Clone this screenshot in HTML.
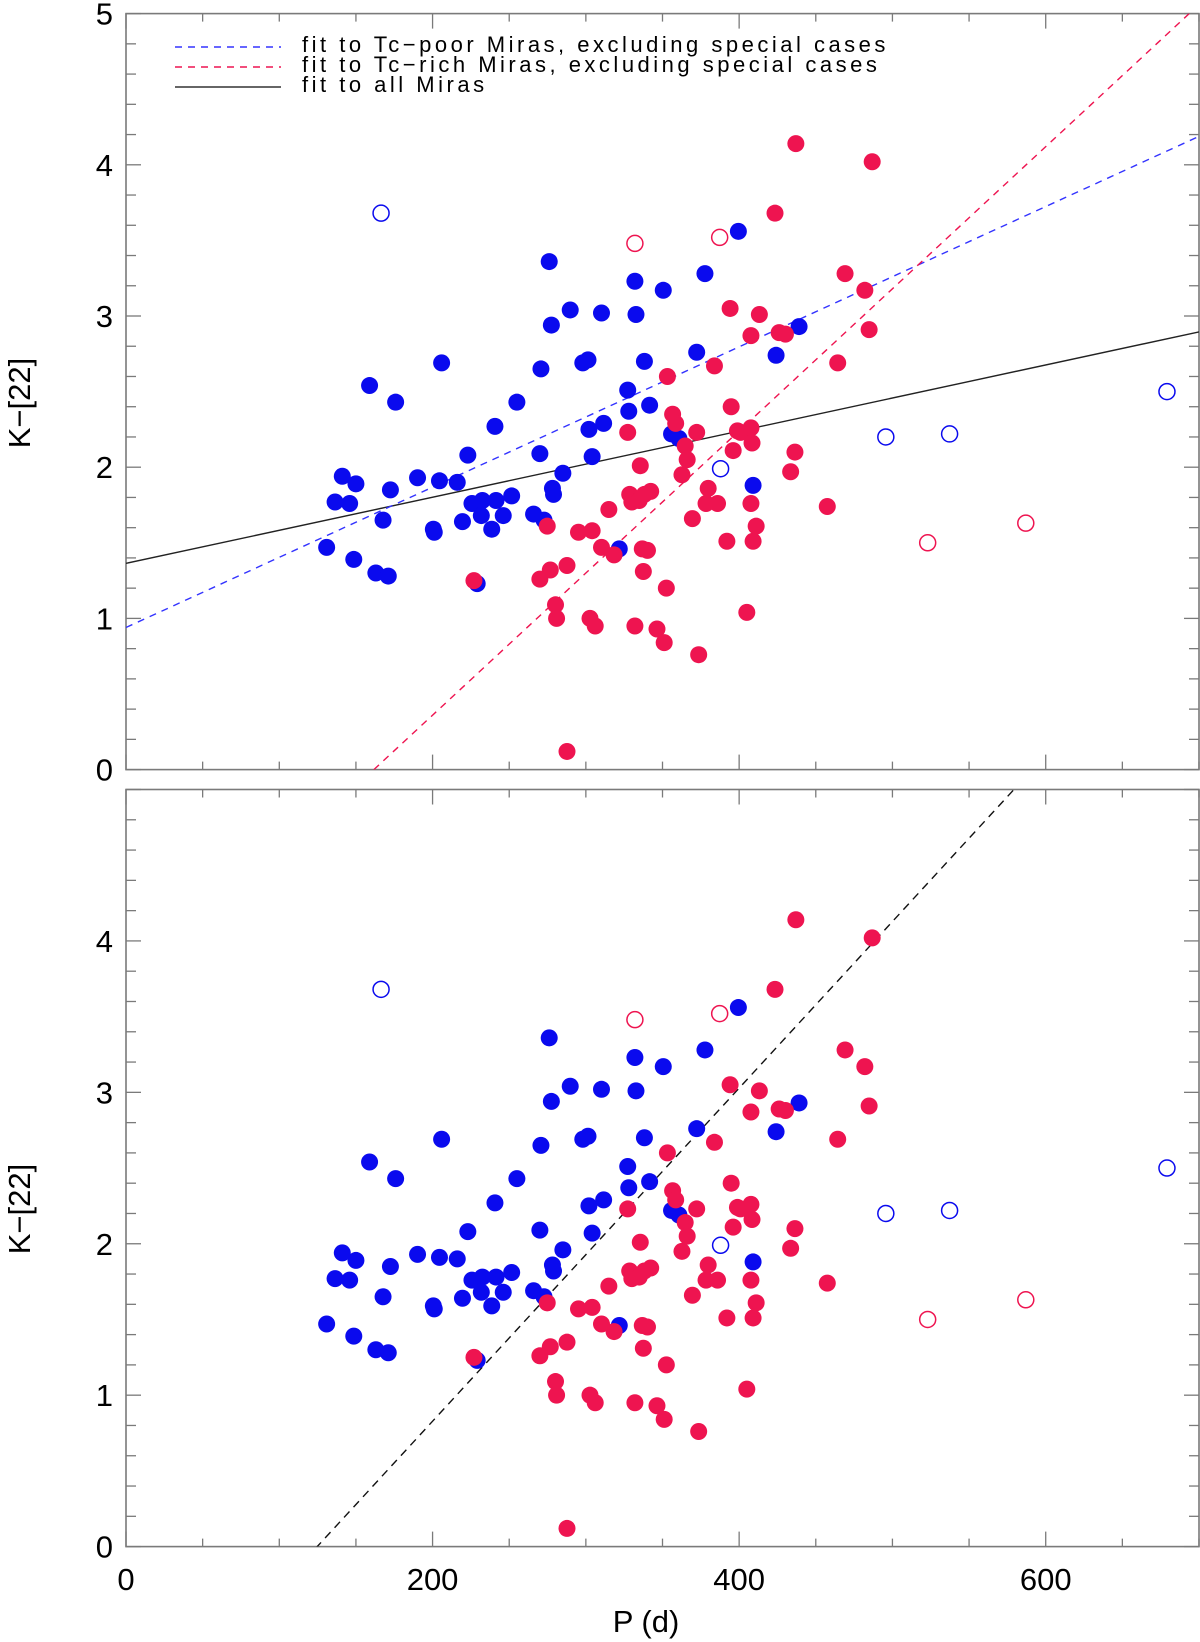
<!DOCTYPE html>
<html><head><meta charset="utf-8"><style>
html,body{margin:0;padding:0;background:#fff;width:1200px;height:1642px;overflow:hidden;}
svg{display:block;}
text{font-family:"Liberation Sans",sans-serif;fill:#000;}
</style></head><body>
<svg id="chart" width="1200" height="1642" viewBox="0 0 1200 1642" xmlns="http://www.w3.org/2000/svg">
<defs>
<clipPath id="clipTop"><rect x="126" y="13.6" width="1073" height="756"/></clipPath>
<clipPath id="clipBot"><rect x="126" y="789.5" width="1073" height="757"/></clipPath>
</defs>
<g id="legend">
<line x1="175" y1="47" x2="281" y2="47" stroke="#3333ff" stroke-width="1.5" stroke-dasharray="7,6"/>
<line x1="175" y1="67" x2="281" y2="67" stroke="#ee1450" stroke-width="1.5" stroke-dasharray="7,6"/>
<line x1="175" y1="87" x2="281" y2="87" stroke="#333" stroke-width="1.5"/>
<text x="302" y="52" font-size="22" letter-spacing="3.5">fit to Tc−poor Miras, excluding special cases</text>
<text x="302" y="72" font-size="22" letter-spacing="3.5">fit to Tc−rich Miras, excluding special cases</text>
<text x="302" y="92" font-size="22" letter-spacing="3.5">fit to all Miras</text>
</g>
<text x="0" y="0" font-size="31" text-anchor="middle" transform="translate(30,403) rotate(-90)">K−[22]</text>
<text x="0" y="0" font-size="31" text-anchor="middle" transform="translate(30,1209) rotate(-90)">K−[22]</text>
<text x="646" y="1632" font-size="31" text-anchor="middle">P (d)</text>
</svg>
<script>
const blueP=[130.9,136.4,141.1,145.9,150.0,148.6,163.0,167.7,171.1,172.5,175.9,158.9,205.9,190.2,200.5,201.1,204.5,216.1,219.5,223.0,225.7,231.8,232.5,238.6,240.7,241.4,255.0,246.1,251.6,265.9,270.7,270.0,272.7,276.1,277.5,278.2,278.9,285.0,289.8,298.0,301.4,302.0,304.1,310.2,311.6,321.8,327.3,328.0,332.0,332.7,338.2,341.6,350.5,355.9,360.7,372.3,377.7,399.5,409.1,424.1,439.1,229.1];
const blueK=[1.47,1.77,1.94,1.76,1.89,1.39,1.30,1.65,1.28,1.85,2.43,2.54,2.69,1.93,1.59,1.57,1.91,1.90,1.64,2.08,1.76,1.68,1.78,1.59,2.27,1.78,2.43,1.68,1.81,1.69,2.65,2.09,1.65,3.36,2.94,1.86,1.82,1.96,3.04,2.69,2.71,2.25,2.07,3.02,2.29,1.46,2.51,2.37,3.23,3.01,2.70,2.41,3.17,2.22,2.19,2.76,3.28,3.56,1.88,2.74,2.93,1.23];
const redP=[227.0,270.0,274.8,276.8,280.2,280.9,287.7,287.7,295.2,302.7,304.1,306.1,310.2,315.0,318.4,327.3,328.6,330.0,332.0,334.8,335.5,336.8,337.5,338.2,340.2,342.3,346.4,351.1,352.5,353.2,356.6,358.6,362.7,364.8,366.1,369.5,373.6,372.3,378.4,379.8,383.9,385.9,392.0,394.1,394.8,396.1,398.9,400.9,405.0,407.7,407.7,408.4,407.7,409.1,411.1,413.2,423.4,426.1,430.2,433.6,436.4,437.0,457.5,464.3,469.1,482.0,484.8,486.8];
const redK=[1.25,1.26,1.61,1.32,1.09,1.00,1.35,0.12,1.57,1.00,1.58,0.95,1.47,1.72,1.42,2.23,1.82,1.77,0.95,1.78,2.01,1.46,1.31,1.82,1.45,1.84,0.93,0.84,1.20,2.60,2.35,2.29,1.95,2.14,2.05,1.66,0.76,2.23,1.76,1.86,2.67,1.76,1.51,3.05,2.40,2.11,2.24,2.23,1.04,2.87,2.26,2.16,1.76,1.51,1.61,3.01,3.68,2.89,2.88,1.97,2.10,4.14,1.74,2.69,3.28,3.17,2.91,4.02];
const openBlueP=[166.4,387.9,495.7,537.3,679.1];
const openBlueK=[3.68,1.99,2.20,2.22,2.50];
const openRedP=[332.0,387.3,523.0,587.0];
const openRedK=[3.48,3.52,1.50,1.63];
// fits: [intercept, slope]
const fitPoor=[0.94,0.00464];
const fitRich=[-1.52,0.0094];
const fitAll=[1.364,0.002187];
const fitBottom=[-1.372,0.011];
const xTickLabels=[0,200,400,600];
const yTickLabelsTop=[0,1,2,3,4,5];
const yTickLabelsBot=[0,1,2,3,4];

const NS="http://www.w3.org/2000/svg";
const svg=document.getElementById('chart');
const X0=126,X1=1199,PMAX=700;
function xs(p){return X0+(p/PMAX)*(X1-X0);}
function mk(tag,attrs,parent){const e=document.createElementNS(NS,tag);for(const k in attrs)e.setAttribute(k,attrs[k]);(parent||svg).appendChild(e);return e;}
const BLUE="#0a0aee",RED="#ee1450",AX="#7a7a7a";

function panel(top,bot,name,clipId,labels,fits){
  const ys=k=>bot-(k/5)*(bot-top);
  const g=mk('g',{});
  
  
  const fr=mk('rect',{x:X0,y:top,width:X1-X0,height:bot-top,fill:'none',stroke:AX,'stroke-width':1.6},g);
  
  
  for(let p=0;p<=PMAX;p+=50){
    const L=(p%200===0)?15:8;const x=xs(p);
    const t1=mk('line',{x1:x,y1:bot,x2:x,y2:bot-L,stroke:AX,'stroke-width':1.3},g);
    
    
    const t2=mk('line',{x1:x,y1:top,x2:x,y2:top+L,stroke:AX,'stroke-width':1.3},g);
    
    
  }
  for(let i=0;i<=25;i++){
    const k=i*0.2;const L=(i%5===0)?15:10;const y=ys(k);
    const t1=mk('line',{x1:X0,y1:y,x2:X0+L,y2:y,stroke:AX,'stroke-width':1.3},g);
    
    
    const t2=mk('line',{x1:X1,y1:y,x2:X1-L,y2:y,stroke:AX,'stroke-width':1.3},g);
    
    
  }
  labels.forEach(v=>{
    const t=mk('text',{x:113,y:ys(v)+11,'font-size':31,'text-anchor':'end'},g);
    t.textContent=v;
    
    
  });
  const cg=mk('g',{'clip-path':'url(#'+clipId+')'},g);
  fits.forEach(f=>{
    const l=mk('line',{x1:xs(0),y1:ys(f.c[0]),x2:xs(PMAX),y2:ys(f.c[0]+f.c[1]*PMAX),stroke:f.col,'stroke-width':1.4},cg);
    if(f.dash)l.setAttribute('stroke-dasharray',f.dash);
    
    
  });
  blueP.forEach((p,i)=>{
    const c=mk('circle',{cx:xs(p),cy:ys(blueK[i]),r:8.5,fill:BLUE},cg);
    
    
  });
  redP.forEach((p,i)=>{
    const c=mk('circle',{cx:xs(p),cy:ys(redK[i]),r:8.5,fill:RED},cg);
    
    
  });
  openBlueP.forEach((p,i)=>{
    const c=mk('circle',{cx:xs(p),cy:ys(openBlueK[i]),r:8,fill:'none',stroke:BLUE,'stroke-width':1.5},cg);
    
    
  });
  openRedP.forEach((p,i)=>{
    const c=mk('circle',{cx:xs(p),cy:ys(openRedK[i]),r:8,fill:'none',stroke:RED,'stroke-width':1.5},cg);
    
    
  });
}
panel(13.6,769.6,'top-panel','clipTop',yTickLabelsTop,[
  {c:fitAll,col:'#222',dash:null,name:'fit-all-line'},
  {c:fitPoor,col:'#3333ff',dash:'7,6',name:'fit-tc-poor-line'},
  {c:fitRich,col:'#ee1450',dash:'7,6',name:'fit-tc-rich-line'}]);
panel(789.5,1546.6,'bottom-panel','clipBot',yTickLabelsBot,[
  {c:fitBottom,col:'#111',dash:'8,6',name:'fit-bottom-line'}]);
xTickLabels.forEach(v=>{
  const t=mk('text',{x:xs(v),y:1590,'font-size':31,'text-anchor':'middle'});
  t.textContent=v;
  
  
});
</script>
</body></html>
